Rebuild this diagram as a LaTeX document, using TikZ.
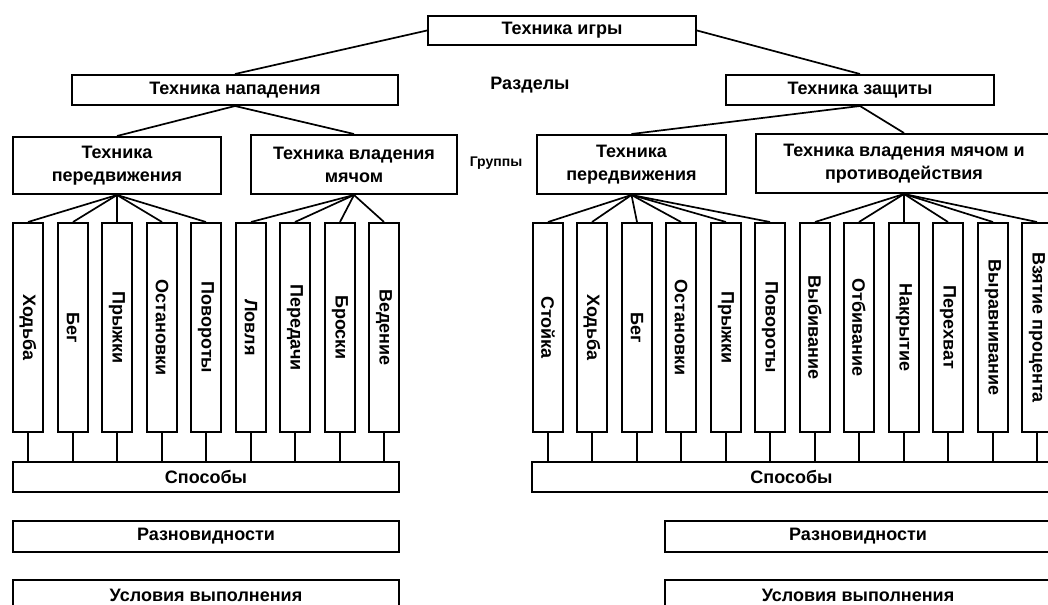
\documentclass[tikz,border=0pt]{standalone}
\usepackage{fontspec}
\setmainfont{Liberation Sans}
\usepackage{graphicx}
\newcommand\bigf{\fontsize{18bp}{23bp}\selectfont\bfseries}
\newcommand\smallf{\fontsize{14bp}{16bp}\selectfont\bfseries}
\tikzset{
  bx/.style={draw, line width=2bp, inner sep=0pt, anchor=north west, align=center, font=\bigf},
  colbx/.style={bx, minimum width=30bp, minimum height=209bp},
  ln/.style={line width=1.7bp},
  lbl/.style={inner sep=0pt}
}
\begin{document}
\begin{tikzpicture}[x=1bp,y=-1bp]
\useasboundingbox (0,0) rectangle (1048,605);
\clip (0,0) rectangle (1048,605);
\fill[white] (0,0) rectangle (1048,605);
% top levels
\node[bx, minimum width=268bp, minimum height=29bp] (tig) at (427,15) {Техника игры};
\node[bx, minimum width=326bp, minimum height=30bp] (tn) at (71,74) {Техника нападения};
\node[bx, minimum width=268bp, minimum height=30bp] (tz) at (725,74) {Техника защиты};
\node[lbl, font=\bigf] (razd) at (530,85) {Разделы};
\node[lbl, font=\smallf] (grp) at (496,163) {Группы};
% groups
\node[bx, minimum width=208bp, minimum height=57bp] (tp1) at (12,136) {Техника\\передвижения};
\node[bx, minimum width=206bp, minimum height=59bp] (tv1) at (250,134) {Техника владения\\мячом};
\node[bx, minimum width=189bp, minimum height=59bp] (tp2) at (536,134) {Техника\\передвижения};
\node[bx, minimum width=296bp, minimum height=59bp] (tv2) at (755,133) {Техника владения мячом и\\противодействия};
% columns
\foreach \t/\x [count=\i] in {Ходьба/12,Бег/57,Прыжки/101,Остановки/146,Повороты/190,Ловля/235,Передачи/279,Броски/324,Ведение/368}
  \node[colbx] (a\i) at (\x,222) {\rotatebox{-90}{\t}};
\foreach \t/\x [count=\i] in {Стойка/532,Ходьба/576,Бег/621,Остановки/665,Прыжки/710,Повороты/754,Выбивание/799,Отбивание/843,Накрытие/888,Перехват/932,Выравнивание/977,Взятие процента/1021}
  \node[colbx] (b\i) at (\x,222) {\rotatebox{-90}{\t}};
% bottom boxes
\node[bx, minimum width=386bp, minimum height=30bp] (sp1) at (12,461) {Способы};
\node[bx, minimum width=519bp, minimum height=30bp] (sp2) at (531,461) {Способы};
\node[bx, minimum width=386bp, minimum height=31bp] (rz1) at (12,520) {Разновидности};
\node[bx, minimum width=386bp, minimum height=31bp] (rz2) at (664,520) {Разновидности};
\node[bx, minimum width=386bp, minimum height=31bp] (us1) at (12,579) {Условия выполнения};
\node[bx, minimum width=386bp, minimum height=31bp] (us2) at (664,579) {Условия выполнения};
% connectors
\draw[ln] (tig.west) -- (tn.north);
\draw[ln] (tig.east) -- (tz.north);
\draw[ln] (tn.south) -- (tp1.north);
\draw[ln] (tn.south) -- (tv1.north);
\draw[ln] (tz.south) -- (tp2.north);
\draw[ln] (tz.south) -- (tv2.north);
\foreach \i in {1,...,5} \draw[ln] (tp1.south) -- (a\i.north);
\foreach \i in {6,...,9} \draw[ln] (tv1.south) -- (a\i.north);
\foreach \i in {1,...,6} \draw[ln] (tp2.south) -- (b\i.north);
\foreach \i in {7,...,12} \draw[ln] (tv2.south) -- (b\i.north);
\foreach \i in {1,...,9} \draw[ln, line width=2bp] (a\i.south) -- (a\i.south |- sp1.north);
\foreach \i in {1,...,12} \draw[ln, line width=2bp] (b\i.south) -- (b\i.south |- sp2.north);
\end{tikzpicture}
\end{document}
